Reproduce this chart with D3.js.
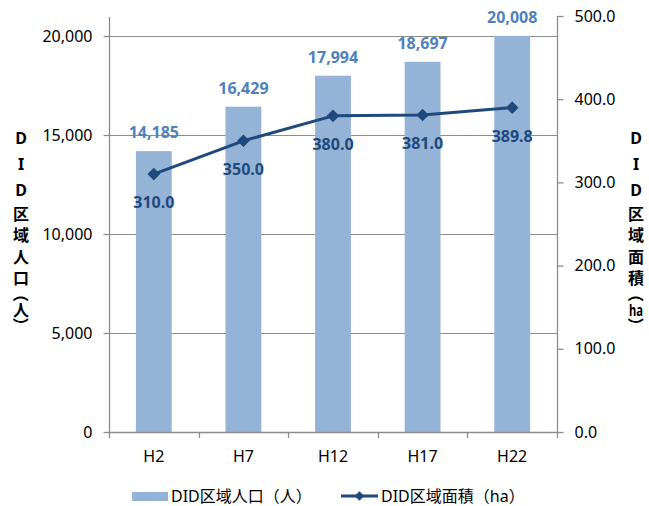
<!DOCTYPE html>
<html>
<head>
<meta charset="utf-8">
<script src="https://cdn.jsdelivr.net/npm/d3@7"></script>
<style>
  html, body { margin: 0; padding: 0; background: #fff; }
  svg { display: block; }
  text { font-family: "Noto Sans", "Noto Sans CJK JP", sans-serif; }
</style>
</head>
<body>
<svg id="chart" width="649" height="506"></svg>
<script>
// Survey years (Heisei era)
const categories = ["H2", "H7", "H12", "H17", "H22"];
// DID population (persons) — bars, left axis
const population = [14185, 16429, 17994, 18697, 20008];
// DID area (ha) — line, right axis
const area = [310.0, 350.0, 380.0, 381.0, 389.8];
// Axis tick values
const leftTicks = [0, 5000, 10000, 15000, 20000];
const rightTicks = [0, 100, 200, 300, 400, 500];

const seriesNames = ["DID区域人口（人）", "DID区域面積（ha）"];
const leftTitle = "DID区域人口（人）";
const rightTitle = ["D", "I", "D", "区", "域", "面", "積", "（", "ha", "）"];

const barColor = "#95B3D7";
const barLabelColor = "#4F81BD";
const lineColor = "#1F497D";
const gridColor = "#8C8C8C";

const svg = d3.select("#chart");
const plot = { left: 109, right: 557, top: 16, bottom: 432 };

const x = d3.scaleBand().domain(categories).range([plot.left, plot.right]).paddingInner(0.6).paddingOuter(0.3);
const xBound = d3.scaleBand().domain(categories).range([plot.left, plot.right]);
const yL = d3.scaleLinear().domain([0, 21010]).range([plot.bottom, plot.top]);
const yR = d3.scaleLinear().domain([0, 500]).range([plot.bottom, plot.top]);

// Horizontal gridlines from the left axis
svg.append("g").selectAll("line").data(leftTicks.filter(d => d > 0)).join("line")
  .attr("x1", plot.left).attr("x2", plot.right)
  .attr("y1", d => Math.round(yL(d)) + 0.5).attr("y2", d => Math.round(yL(d)) + 0.5)
  .attr("stroke", gridColor).attr("stroke-width", 1);

// Bars
svg.append("g").selectAll("rect").data(population).join("rect")
  .attr("x", (d, i) => x(categories[i]))
  .attr("width", x.bandwidth())
  .attr("y", d => yL(d))
  .attr("height", d => yL(0) - yL(d))
  .attr("fill", barColor);

// Left axis
const leftAxis = svg.append("g").attr("transform", `translate(${plot.left + 0.5},0)`)
  .call(d3.axisLeft(yL).tickValues(leftTicks).tickFormat(d3.format(",")).tickSize(6).tickPadding(11));
leftAxis.select(".domain").attr("d", `M0,${plot.top + 1}V${plot.bottom}`);

// Right axis
const rightAxis = svg.append("g").attr("transform", `translate(${plot.right + 0.5},0)`)
  .call(d3.axisRight(yR).tickValues(rightTicks).tickFormat(d3.format(".1f")).tickSize(6).tickPadding(11));
rightAxis.select(".domain").attr("d", `M0,${plot.top}V${plot.bottom}`);

// Bottom axis with ticks at category boundaries
const bottom = svg.append("g");
bottom.append("line").attr("x1", plot.left).attr("x2", plot.right + 1)
  .attr("y1", plot.bottom + 0.5).attr("y2", plot.bottom + 0.5);
const bounds = categories.map(c => xBound(c)).concat([plot.right]);
bottom.selectAll("line.tk").data(bounds).join("line").attr("class", "tk")
  .attr("x1", d => Math.round(d) + 0.5).attr("x2", d => Math.round(d) + 0.5)
  .attr("y1", plot.bottom).attr("y2", plot.bottom + 6);
bottom.selectAll("line").attr("stroke", gridColor).attr("stroke-width", 1.3);
bottom.selectAll("text").data(categories).join("text")
  .attr("x", d => x(d) + x.bandwidth() / 2).attr("y", 456)
  .attr("text-anchor", "middle").attr("dominant-baseline", "central")
  .attr("font-size", 16).attr("fill", "#000").text(d => d);

[leftAxis, rightAxis].forEach(a => {
  a.select(".domain").attr("stroke", gridColor).attr("stroke-width", 1.3);
  a.selectAll(".tick line").attr("stroke", gridColor).attr("stroke-width", 1.3);
  a.selectAll(".tick text").attr("font-size", 16).attr("fill", "#000")
    .attr("font-family", "'Noto Sans', sans-serif");
});

// Line series
const lineGen = d3.line().x((d, i) => x(categories[i]) + x.bandwidth() / 2).y(d => yR(d));
svg.append("path").datum(area).attr("d", lineGen)
  .attr("fill", "none").attr("stroke", lineColor).attr("stroke-width", 3).attr("stroke-linejoin", "round");
const diamond = d3.symbol().type(d3.symbolSquare);
svg.append("g").selectAll("path").data(area).join("path")
  .attr("d", diamond.size(80)())
  .attr("transform", (d, i) => `translate(${x(categories[i]) + x.bandwidth() / 2},${yR(d)}) rotate(45)`)
  .attr("fill", lineColor);

// Data labels
svg.append("g").selectAll("text").data(population).join("text")
  .attr("x", (d, i) => x(categories[i]) + x.bandwidth() / 2)
  .attr("y", d => yL(d) - 19)
  .attr("text-anchor", "middle").attr("dominant-baseline", "central")
  .attr("font-size", 16).attr("font-weight", "bold").attr("fill", barLabelColor)
  .text(d3.format(","));
svg.append("g").selectAll("text").data(area).join("text")
  .attr("x", (d, i) => x(categories[i]) + x.bandwidth() / 2)
  .attr("y", d => yR(d) + 28)
  .attr("text-anchor", "middle").attr("dominant-baseline", "central")
  .attr("font-size", 16).attr("font-weight", "bold").attr("fill", lineColor)
  .text(d3.format(".1f"));

// Vertical axis titles, one character per line
function verticalTitle(chars, cx, startY) {
  const h = c => /^[A-Za-z]+$/.test(c) && c.length === 1 ? 26 : (c === "（" || c === "）" ? 10 : 21.5);
  let y = startY;
  const g = svg.append("g").attr("font-size", 16).attr("font-weight", "bold").attr("fill", "#000");
  chars.forEach((c, i) => {
    if (i > 0) y += (h(chars[i - 1]) + h(c)) / 2;
    const t = g.append("text")
      .attr("text-anchor", "middle").attr("dominant-baseline", "central")
      .attr("font-family", "'Noto Sans CJK JP', sans-serif").text(c);
    if (c === "（" || c === "）") {
      t.attr("transform", `translate(${cx},${y}) rotate(90)`);
    } else if (c.length > 1) {
      // multi-letter run squeezed into one character cell
      t.attr("transform", `translate(${cx},${y}) scale(0.7,1)`);
    } else {
      t.attr("transform", `translate(${cx},${y})`);
    }
  });
}
verticalTitle(Array.from(leftTitle), 21, 138);
verticalTitle(rightTitle, 636, 138);

// Legend
const lg = svg.append("g");
lg.append("rect").attr("x", 132).attr("y", 492).attr("width", 36).attr("height", 9).attr("fill", barColor);
lg.append("text").attr("x", 171).attr("y", 496).attr("dominant-baseline", "central")
  .attr("font-size", 16).attr("fill", "#000").text(seriesNames[0]);
lg.append("line").attr("x1", 341).attr("x2", 378).attr("y1", 496).attr("y2", 496)
  .attr("stroke", lineColor).attr("stroke-width", 3);
lg.append("path").attr("d", diamond.size(45)()).attr("transform", "translate(359.5,496) rotate(45)").attr("fill", lineColor);
lg.append("text").attr("x", 381).attr("y", 496).attr("dominant-baseline", "central")
  .attr("font-size", 16).attr("fill", "#000").text(seriesNames[1]);
</script>
</body>
</html>
